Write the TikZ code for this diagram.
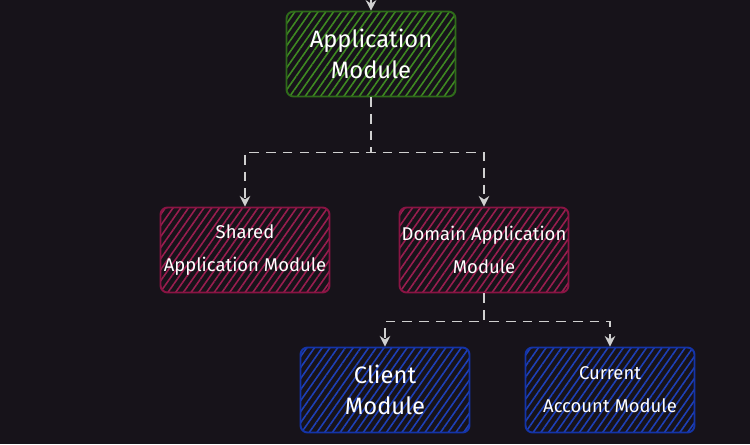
\documentclass[tikz,border=0pt]{standalone}
\usepackage{fontspec}
\setmainfont{Fira Sans}
\usetikzlibrary{arrows.meta,patterns.meta}

\definecolor{bgcol}{HTML}{17131A}
\definecolor{appline}{HTML}{2F6B1A}
\definecolor{apphatch}{HTML}{3F8A22}
\definecolor{redline}{HTML}{8A1444}
\definecolor{redhatch}{HTML}{9A1E50}
\definecolor{blueline}{HTML}{1434A8}
\definecolor{bluehatch}{HTML}{1E40B8}
\definecolor{wire}{HTML}{D0D0D0}

\tikzset{
  module/.style={draw, line width=1.1pt, rounded corners=4pt,
    minimum width=3.38cm, minimum height=1.7cm, align=center,
    text=white, inner sep=0pt},
  bigtext/.style={font=\fontsize{13.5}{18}\selectfont},
  smalltext/.style={font=\fontsize{10.5}{18.7}\selectfont},
  appbox/.style={module, draw=appline,
    pattern={Lines[angle=55,distance=3.6pt,line width=0.9pt]}, pattern color=apphatch},
  redbox/.style={module, draw=redline,
    pattern={Lines[angle=55,distance=3.6pt,line width=0.9pt]}, pattern color=redhatch},
  bluebox/.style={module, draw=blueline,
    pattern={Lines[angle=55,distance=3.6pt,line width=0.9pt]}, pattern color=bluehatch},
  link/.style={draw=wire, line width=0.6pt, dash pattern=on 5.5pt off 4pt,
    -{Stealth[length=6pt,width=6pt]}}
}

\begin{document}
\begin{tikzpicture}[x=0.02cm,y=-0.02cm]

\fill[bgcol] (0,0) rectangle (750,444);
\useasboundingbox (0,0) rectangle (750,444);

\path (371,-20) coordinate (entry);

% boxes
\node[appbox, bigtext] (app) at (371,54) {Application\\Module};
\node[redbox, smalltext] (shared) at (245,250) {Shared\\Application Module};
\node[redbox, smalltext] (domain) at (484,250) {Domain Application\\Module};
\node[bluebox, bigtext] (client) at (385,390) {Client\\Module};
\node[bluebox, smalltext] (current) at (610,390) {Current\\Account Module};

% arrows
\draw[wire, line width=0.6pt, -{Stealth[length=6pt,width=6pt]}] (entry) -- (app.north);

\draw[link] (app.south) -- ++(0,55) -| (shared.north);
\draw[link] (app.south) -- ++(0,55) -| (domain.north);

\draw[link] (domain.south) -- ++(0,28) -| (client.north);
\draw[link] (domain.south) -- ++(0,28) -| (current.north);
\end{tikzpicture}
\end{document}
